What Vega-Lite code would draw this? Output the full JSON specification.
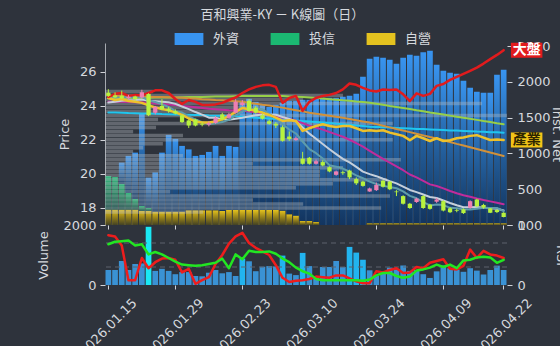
{
"$schema":"https://vega.github.io/schema/vega-lite/v6.json",
"background":"#2e333c",
"padding":{"left":37,"top":9,"right":0,"bottom":0},
"title":{"text":"百和興業-KY － K線圖（日）","font":"Noto Sans CJK TC","fontSize":13,"fontWeight":"normal","color":"#d6d9de","anchor":"middle","offset":5,"dx":-20},
"spacing":0,
"bounds":"flush",
"config":{
 "view":{"stroke":null},
 "axis":{"labelColor":"#d6d9de","titleColor":"#d6d9de","tickColor":"#d0d3d8","domainColor":"#a6aab0","labelFont":"DejaVu Sans","titleFont":"DejaVu Sans","labelFontSize":13,"titleFontSize":13,"titleFontWeight":"normal","grid":false,"tickWidth":1},
 "line":{"strokeCap":"round","strokeJoin":"round"}
},
"datasets":{
"d":[
{"date":"2026.01.15","o":24.78,"h":24.98,"l":24.53,"c":24.59,"v":500,"r5":83,"r10":68,"m5":24.45,"m10":24.2,"m20":24.25,"m60":24.6,"m120":24.45,"m240":23.62,"ind":24.47,"mkt":24.53,"外資":0,"投信":471,"自營":214},
{"date":"2026.01.16","o":24.62,"h":24.8,"l":24.45,"c":24.5,"v":500,"r5":81,"r10":72,"m5":24.48,"m10":24.25,"m20":24.25,"m60":24.59,"m120":24.46,"m240":23.61,"ind":24.35,"mkt":24.71,"外資":0,"投信":457,"自營":214},
{"date":"2026.01.19","o":24.6,"h":24.9,"l":24.4,"c":24.45,"v":800,"r5":66,"r10":73,"m5":24.5,"m10":24.3,"m20":24.24,"m60":24.58,"m120":24.46,"m240":23.6,"ind":24.41,"mkt":24.76,"外資":298,"投信":360,"自營":214},
{"date":"2026.01.20","o":24.45,"h":24.65,"l":24.4,"c":24.55,"v":500,"r5":8,"r10":74,"m5":24.52,"m10":24.33,"m20":24.23,"m60":24.57,"m120":24.47,"m240":23.58,"ind":24.29,"mkt":24.59,"外資":518,"投信":234,"自營":214},
{"date":"2026.01.21","o":24.55,"h":24.6,"l":24.3,"c":24.4,"v":700,"r5":8,"r10":66,"m5":24.5,"m10":24.35,"m20":24.22,"m60":24.56,"m120":24.47,"m240":23.57,"ind":24.24,"mkt":24.65,"外資":648,"投信":150,"自營":214},
{"date":"2026.01.22","o":24.5,"h":24.95,"l":24.45,"c":24.8,"v":720,"r5":45,"r10":68,"m5":24.54,"m10":24.38,"m20":24.21,"m60":24.55,"m120":24.48,"m240":23.56,"ind":24.18,"mkt":24.62,"外資":1288,"投信":70,"自營":196},
{"date":"2026.01.23","o":24.7,"h":24.75,"l":23.4,"c":23.45,"v":1940,"r5":28,"r10":51,"m5":24.33,"m10":24.3,"m20":24.18,"m60":24.54,"m120":24.48,"m240":23.55,"ind":24.03,"mkt":24.76,"外資":424,"投信":42,"自營":196},
{"date":"2026.01.26","o":23.6,"h":24.0,"l":23.5,"c":23.95,"v":470,"r5":38,"r10":55,"m5":24.23,"m10":24.28,"m20":24.15,"m60":24.53,"m120":24.49,"m240":23.54,"ind":23.91,"mkt":24.92,"外資":549,"投信":0,"自營":186},
{"date":"2026.01.27","o":24.0,"h":24.4,"l":23.75,"c":23.8,"v":540,"r5":44,"r10":51,"m5":24.1,"m10":24.25,"m20":24.12,"m60":24.52,"m120":24.49,"m240":23.52,"ind":23.82,"mkt":24.92,"外資":826,"投信":0,"自營":186},
{"date":"2026.01.28","o":23.85,"h":23.95,"l":23.6,"c":23.7,"v":470,"r5":45,"r10":45,"m5":23.94,"m10":24.22,"m20":24.08,"m60":24.51,"m120":24.5,"m240":23.51,"ind":23.74,"mkt":24.76,"外資":1074,"投信":0,"自營":186},
{"date":"2026.01.29","o":23.7,"h":23.8,"l":23.5,"c":23.55,"v":360,"r5":42,"r10":39,"m5":23.69,"m10":24.12,"m20":24.05,"m60":24.5,"m120":24.5,"m240":23.5,"ind":23.62,"mkt":24.41,"外資":1018,"投信":0,"自營":186},
{"date":"2026.01.30","o":23.45,"h":23.5,"l":23.0,"c":23.05,"v":430,"r5":21,"r10":34,"m5":23.61,"m10":23.97,"m20":24.0,"m60":24.48,"m120":24.51,"m240":23.49,"ind":23.47,"mkt":24.12,"外資":920,"投信":0,"自營":186},
{"date":"2026.02.02","o":23.15,"h":23.2,"l":22.7,"c":22.85,"v":430,"r5":27,"r10":33,"m5":23.39,"m10":23.81,"m20":23.96,"m60":24.45,"m120":24.52,"m240":23.48,"ind":23.26,"mkt":24.35,"外資":851,"投信":0,"自營":206},
{"date":"2026.02.03","o":23.2,"h":23.25,"l":22.8,"c":22.85,"v":300,"r5":2,"r10":32,"m5":23.2,"m10":23.64,"m20":23.92,"m60":24.43,"m120":24.52,"m240":23.47,"ind":23.09,"mkt":24.24,"外資":760,"投信":0,"自營":206},
{"date":"2026.02.04","o":22.95,"h":23.05,"l":22.8,"c":22.9,"v":290,"r5":8,"r10":33,"m5":23.04,"m10":23.49,"m20":23.88,"m60":24.4,"m120":24.53,"m240":23.46,"ind":23.02,"mkt":24.06,"外資":774,"投信":0,"自營":206},
{"date":"2026.02.05","o":22.9,"h":23.1,"l":22.8,"c":23.0,"v":410,"r5":13,"r10":35,"m5":22.93,"m10":23.31,"m20":23.84,"m60":24.38,"m120":24.54,"m240":23.44,"ind":23.02,"mkt":24.06,"外資":816,"投信":0,"自營":206},
{"date":"2026.02.06","o":23.0,"h":23.4,"l":22.95,"c":23.3,"v":500,"r5":35,"r10":37,"m5":22.98,"m10":23.3,"m20":23.81,"m60":24.35,"m120":24.55,"m240":23.43,"ind":23.09,"mkt":24.09,"外資":900,"投信":0,"自營":206},
{"date":"2026.02.09","o":23.5,"h":23.6,"l":23.15,"c":23.2,"v":390,"r5":50,"r10":44,"m5":23.05,"m10":23.22,"m20":23.78,"m60":24.33,"m120":24.55,"m240":23.42,"ind":23.21,"mkt":24.18,"外資":770,"投信":0,"自營":196},
{"date":"2026.02.10","o":23.3,"h":23.6,"l":23.25,"c":23.5,"v":430,"r5":69,"r10":28,"m5":23.18,"m10":23.19,"m20":23.75,"m60":24.3,"m120":24.56,"m240":23.41,"ind":23.41,"mkt":24.35,"外資":896,"投信":0,"自營":210},
{"date":"2026.02.11","o":23.6,"h":24.4,"l":23.55,"c":24.25,"v":300,"r5":81,"r10":51,"m5":23.45,"m10":23.25,"m20":23.73,"m60":24.28,"m120":24.57,"m240":23.4,"ind":23.65,"mkt":24.5,"外資":882,"投信":0,"自營":210},
{"date":"2026.02.23","o":24.05,"h":24.35,"l":24.0,"c":24.2,"v":880,"r5":87,"r10":43,"m5":23.69,"m10":23.31,"m20":23.71,"m60":24.25,"m120":24.58,"m240":23.37,"ind":23.88,"mkt":24.76,"外資":1526,"投信":0,"自營":210},
{"date":"2026.02.24","o":24.3,"h":24.4,"l":23.65,"c":23.7,"v":790,"r5":70,"r10":57,"m5":23.79,"m10":23.38,"m20":23.67,"m60":24.19,"m120":24.58,"m240":23.34,"ind":23.81,"mkt":24.97,"外資":1554,"投信":0,"自營":210},
{"date":"2026.02.25","o":23.9,"h":24.0,"l":23.55,"c":23.6,"v":460,"r5":62,"r10":55,"m5":23.85,"m10":23.45,"m20":23.63,"m60":24.13,"m120":24.58,"m240":23.31,"ind":23.71,"mkt":25.12,"外資":1512,"投信":0,"自營":210},
{"date":"2026.02.26","o":23.45,"h":23.55,"l":23.2,"c":23.25,"v":610,"r5":56,"r10":55,"m5":23.8,"m10":23.49,"m20":23.57,"m60":24.07,"m120":24.58,"m240":23.29,"ind":23.61,"mkt":25.21,"外資":1470,"投信":0,"自營":210},
{"date":"2026.03.02","o":23.1,"h":23.2,"l":22.9,"c":22.95,"v":630,"r5":50,"r10":56,"m5":23.54,"m10":23.5,"m20":23.49,"m60":24.02,"m120":24.58,"m240":23.26,"ind":23.47,"mkt":25.24,"外資":1442,"投信":0,"自營":210},
{"date":"2026.03.03","o":22.95,"h":23.05,"l":22.7,"c":22.85,"v":620,"r5":33,"r10":52,"m5":23.27,"m10":23.48,"m20":23.4,"m60":23.96,"m120":24.58,"m240":23.23,"ind":23.31,"mkt":25.12,"外資":1470,"投信":0,"自營":210},
{"date":"2026.03.04","o":22.75,"h":22.85,"l":21.9,"c":21.95,"v":980,"r5":12,"r10":44,"m5":22.92,"m10":23.35,"m20":23.32,"m60":23.9,"m120":24.58,"m240":23.2,"ind":23.12,"mkt":24.18,"外資":1508,"投信":0,"自營":200},
{"date":"2026.03.05","o":22.2,"h":22.5,"l":21.95,"c":22.05,"v":380,"r5":5,"r10":38,"m5":22.61,"m10":23.23,"m20":23.23,"m60":23.82,"m120":24.56,"m240":23.17,"ind":23.16,"mkt":24.47,"外資":1586,"投信":0,"自營":150},
{"date":"2026.03.06","o":22.0,"h":22.2,"l":21.95,"c":22.1,"v":330,"r5":7,"r10":29,"m5":22.38,"m10":23.09,"m20":23.14,"m60":23.75,"m120":24.54,"m240":23.14,"ind":23.12,"mkt":24.59,"外資":1606,"投信":0,"自營":130},
{"date":"2026.03.09","o":20.9,"h":21.3,"l":20.55,"c":20.6,"v":1070,"r5":8,"r10":23,"m5":21.91,"m10":22.73,"m20":22.99,"m60":23.68,"m120":24.52,"m240":23.11,"ind":22.53,"mkt":23.71,"外資":1694,"投信":0,"自營":56},
{"date":"2026.03.10","o":20.95,"h":21.0,"l":20.55,"c":20.6,"v":630,"r5":10,"r10":19,"m5":21.46,"m10":22.37,"m20":22.84,"m60":23.6,"m120":24.5,"m240":23.09,"ind":22.69,"mkt":24.24,"外資":1694,"投信":0,"自營":56},
{"date":"2026.03.11","o":20.6,"h":20.85,"l":20.55,"c":20.75,"v":280,"r5":14,"r10":10,"m5":21.22,"m10":22.07,"m20":22.72,"m60":23.54,"m120":24.47,"m240":23.06,"ind":22.82,"mkt":24.47,"外資":1722,"投信":0,"自營":42},
{"date":"2026.03.12","o":20.7,"h":20.8,"l":20.45,"c":20.5,"v":600,"r5":13,"r10":8,"m5":20.91,"m10":21.76,"m20":22.61,"m60":23.48,"m120":24.43,"m240":23.03,"ind":22.92,"mkt":24.59,"外資":1778,"投信":0,"自營":0},
{"date":"2026.03.13","o":20.4,"h":20.45,"l":20.1,"c":20.15,"v":600,"r5":12,"r10":8,"m5":20.52,"m10":21.45,"m20":22.47,"m60":23.42,"m120":24.4,"m240":23.0,"ind":22.82,"mkt":24.65,"外資":1778,"投信":0,"自營":0},
{"date":"2026.03.16","o":19.95,"h":20.2,"l":19.9,"c":20.15,"v":800,"r5":16,"r10":8,"m5":20.43,"m10":21.17,"m20":22.33,"m60":23.36,"m120":24.37,"m240":22.96,"ind":22.76,"mkt":24.76,"外資":1778,"投信":0,"自營":0},
{"date":"2026.03.17","o":20.1,"h":20.2,"l":19.95,"c":20.05,"v":600,"r5":16,"r10":8,"m5":20.32,"m10":20.89,"m20":22.19,"m60":23.3,"m120":24.33,"m240":22.93,"ind":22.82,"mkt":24.97,"外資":1792,"投信":0,"自營":0},
{"date":"2026.03.18","o":20.2,"h":20.25,"l":19.7,"c":19.8,"v":1270,"r5":11,"r10":8,"m5":20.13,"m10":20.68,"m20":22.01,"m60":23.23,"m120":24.3,"m240":22.89,"ind":22.82,"mkt":25.32,"外資":1806,"投信":0,"自營":0},
{"date":"2026.03.19","o":19.7,"h":19.8,"l":19.35,"c":19.45,"v":1080,"r5":6,"r10":8,"m5":19.92,"m10":20.42,"m20":21.82,"m60":23.16,"m120":24.26,"m240":22.85,"ind":22.69,"mkt":25.24,"外資":1834,"投信":0,"自營":0},
{"date":"2026.03.20","o":19.55,"h":19.6,"l":19.25,"c":19.3,"v":840,"r5":3,"r10":7,"m5":19.75,"m10":20.14,"m20":21.61,"m60":23.09,"m120":24.23,"m240":22.82,"ind":22.53,"mkt":25.06,"外資":2072,"投信":0,"自營":0},
{"date":"2026.03.23","o":18.97,"h":19.2,"l":18.95,"c":19.15,"v":490,"r5":3,"r10":9,"m5":19.55,"m10":19.99,"m20":21.36,"m60":23.02,"m120":24.19,"m240":22.78,"ind":22.57,"mkt":24.91,"外資":2299,"投信":0,"自營":25},
{"date":"2026.03.24","o":19.05,"h":19.5,"l":19.0,"c":19.35,"v":300,"r5":23,"r10":16,"m5":19.41,"m10":19.87,"m20":21.12,"m60":22.93,"m120":24.13,"m240":22.76,"ind":22.53,"mkt":24.85,"外資":2327,"投信":0,"自營":25},
{"date":"2026.03.25","o":19.6,"h":19.65,"l":19.2,"c":19.25,"v":400,"r5":21,"r10":20,"m5":19.3,"m10":19.72,"m20":20.89,"m60":22.83,"m120":24.07,"m240":22.74,"ind":22.57,"mkt":24.97,"外資":2313,"投信":0,"自營":25},
{"date":"2026.03.26","o":19.55,"h":19.6,"l":19.05,"c":19.1,"v":580,"r5":25,"r10":20,"m5":19.23,"m10":19.58,"m20":20.67,"m60":22.74,"m120":24.0,"m240":22.73,"ind":22.43,"mkt":24.94,"外資":2285,"投信":0,"自營":25},
{"date":"2026.03.27","o":18.97,"h":19.05,"l":18.7,"c":18.93,"v":520,"r5":28,"r10":15,"m5":19.16,"m10":19.45,"m20":20.45,"m60":22.64,"m120":23.94,"m240":22.71,"ind":22.34,"mkt":24.97,"外資":2229,"投信":0,"自營":25},
{"date":"2026.03.30","o":18.7,"h":18.75,"l":18.2,"c":18.25,"v":650,"r5":20,"r10":12,"m5":18.98,"m10":19.26,"m20":20.22,"m60":22.55,"m120":23.88,"m240":22.69,"ind":22.24,"mkt":24.68,"外資":2313,"投信":0,"自營":25},
{"date":"2026.03.31","o":18.25,"h":18.3,"l":17.95,"c":18.0,"v":470,"r5":21,"r10":14,"m5":18.71,"m10":19.06,"m20":19.97,"m60":22.46,"m120":23.82,"m240":22.67,"ind":21.98,"mkt":24.29,"外資":2355,"投信":0,"自營":25},
{"date":"2026.04.01","o":18.35,"h":18.6,"l":18.3,"c":18.55,"v":500,"r5":30,"r10":24,"m5":18.57,"m10":18.93,"m20":19.8,"m60":22.36,"m120":23.75,"m240":22.65,"ind":22.24,"mkt":24.74,"外資":2341,"投信":0,"自營":25},
{"date":"2026.04.02","o":18.7,"h":18.75,"l":17.95,"c":18.0,"v":360,"r5":28,"r10":26,"m5":18.35,"m10":18.79,"m20":19.6,"m60":22.27,"m120":23.69,"m240":22.64,"ind":22.1,"mkt":24.59,"外資":2390,"投信":0,"自營":25},
{"date":"2026.04.07","o":18.2,"h":18.25,"l":17.9,"c":17.95,"v":235,"r5":37,"r10":29,"m5":18.15,"m10":18.65,"m20":19.39,"m60":22.17,"m120":23.62,"m240":22.62,"ind":21.94,"mkt":24.71,"外資":2411,"投信":0,"自營":25},
{"date":"2026.04.08","o":18.37,"h":18.6,"l":18.3,"c":18.5,"v":455,"r5":40,"r10":34,"m5":18.2,"m10":18.59,"m20":19.29,"m60":22.08,"m120":23.56,"m240":22.6,"ind":22.1,"mkt":25.18,"外資":2215,"投信":0,"自營":25},
{"date":"2026.04.09","o":18.4,"h":18.45,"l":17.8,"c":17.85,"v":650,"r5":43,"r10":30,"m5":18.17,"m10":18.44,"m20":19.15,"m60":21.98,"m120":23.5,"m240":22.58,"ind":21.94,"mkt":25.29,"外資":2131,"投信":0,"自營":25},
{"date":"2026.04.10","o":17.98,"h":18.05,"l":17.7,"c":17.75,"v":560,"r5":27,"r10":34,"m5":18.01,"m10":18.29,"m20":19.0,"m60":21.88,"m120":23.43,"m240":22.56,"ind":21.98,"mkt":25.53,"外資":2103,"投信":0,"自營":25},
{"date":"2026.04.13","o":17.87,"h":17.95,"l":17.75,"c":17.83,"v":520,"r5":26,"r10":28,"m5":17.98,"m10":18.16,"m20":18.87,"m60":21.77,"m120":23.37,"m240":22.55,"ind":22.1,"mkt":25.71,"外資":2089,"投信":0,"自營":25},
{"date":"2026.04.14","o":17.92,"h":17.98,"l":17.65,"c":17.7,"v":440,"r5":32,"r10":41,"m5":17.93,"m10":18.04,"m20":18.75,"m60":21.67,"m120":23.3,"m240":22.53,"ind":22.14,"mkt":25.88,"外資":1991,"投信":0,"自營":25},
{"date":"2026.04.15","o":18.02,"h":18.45,"l":17.95,"c":18.4,"v":560,"r5":59,"r10":42,"m5":17.91,"m10":18.05,"m20":18.66,"m60":21.57,"m120":23.24,"m240":22.51,"ind":22.24,"mkt":26.06,"外資":1893,"投信":0,"自營":25},
{"date":"2026.04.16","o":18.5,"h":18.55,"l":18.05,"c":18.1,"v":480,"r5":45,"r10":46,"m5":17.96,"m10":18.06,"m20":18.56,"m60":21.47,"m120":23.18,"m240":22.49,"ind":22.28,"mkt":26.25,"外資":1837,"投信":0,"自營":25},
{"date":"2026.04.17","o":18.18,"h":18.25,"l":17.95,"c":18.02,"v":350,"r5":57,"r10":47,"m5":18.01,"m10":18.01,"m20":18.47,"m60":21.37,"m120":23.11,"m240":22.48,"ind":22.14,"mkt":26.49,"外資":1823,"投信":0,"自營":25},
{"date":"2026.04.20","o":17.98,"h":18.0,"l":17.7,"c":17.72,"v":500,"r5":51,"r10":46,"m5":18.0,"m10":17.98,"m20":18.39,"m60":21.26,"m120":23.05,"m240":22.46,"ind":22.0,"mkt":26.75,"外資":1823,"投信":0,"自營":25},
{"date":"2026.04.21","o":17.88,"h":17.92,"l":17.7,"c":17.76,"v":645,"r5":49,"r10":37,"m5":18.0,"m10":17.96,"m20":18.31,"m60":21.16,"m120":22.98,"m240":22.45,"ind":22.02,"mkt":27.0,"外資":2075,"投信":0,"自營":25},
{"date":"2026.04.22","o":17.72,"h":17.75,"l":17.45,"c":17.47,"v":500,"r5":45,"r10":42,"m5":17.81,"m10":17.86,"m20":18.22,"m60":21.06,"m120":22.92,"m240":22.43,"ind":22.0,"mkt":27.28,"外資":2145,"投信":0,"自營":25}
],
"prof":[
{"p":25.0,"vol":119},{"p":24.75,"vol":592},{"p":24.5,"vol":493},{"p":24.25,"vol":938},{"p":24.0,"vol":398},{"p":23.75,"vol":343},{"p":23.5,"vol":1000},{"p":23.25,"vol":132},{"p":23.0,"vol":716},{"p":22.75,"vol":127},{"p":22.5,"vol":70},{"p":22.25,"vol":194},{"p":22.0,"vol":716},{"p":21.75,"vol":144},{"p":21.5,"vol":95},{"p":21.25,"vol":70},{"p":21.0,"vol":194},{"p":20.75,"vol":736},{"p":20.5,"vol":368},{"p":20.25,"vol":592},{"p":20.0,"vol":535},{"p":19.75,"vol":535},{"p":19.5,"vol":701},{"p":19.25,"vol":567},{"p":19.0,"vol":475},{"p":18.75,"vol":162},{"p":18.5,"vol":709},{"p":18.25,"vol":368},{"p":18.0,"vol":493},{"p":17.75,"vol":687},{"p":17.5,"vol":244}
],
"lv":[{"lv":30},{"lv":70}]
},
"vconcat":[
{
 "width":402,"height":182,
 "data":{"name":"d"},
 "layer":[
  {
   "transform":[
    {"fold":["外資","投信","自營"],"as":["type","value"]},
    {"stack":"value","groupby":["date"],"sort":[{"field":"type","order":"descending"}],"as":["v0","v1"]}
   ],
   "encoding":{
    "x":{"field":"date","type":"ordinal","scale":{"paddingInner":0.15,"paddingOuter":0.075},"axis":{"orient":"bottom","values":["2026.01.15","2026.01.29","2026.02.23","2026.03.10","2026.03.24","2026.04.09","2026.04.22"],"labels":false,"tickSize":4,"domain":false,"title":null}},
    "y":{"field":"v1","type":"quantitative","scale":{"domain":[0,2545],"nice":false},"axis":{"orient":"right","values":[0,500,1000,1500,2000,2500],"format":"d","title":"Inst. Net","domain":false,"tickSize":5,"labelPadding":5,"titlePadding":-1}},
    "y2":{"field":"v0"}
   },
   "layer":[
    {"mark":{"type":"bar"},
     "encoding":{"color":{"field":"type","type":"nominal","scale":{"domain":["外資","投信","自營"],"range":["#3894f0","#1bb872","#e4c21f"]},
      "legend":{"orient":"none","legendX":72,"legendY":-16,"direction":"horizontal","title":null,"symbolType":"M-1.2,-0.5L1.2,-0.5L1.2,0.5L-1.2,0.5Z","symbolSize":576,"symbolStrokeWidth":0,"symbolOpacity":1,"labelFontSize":13,"labelFont":"Noto Sans CJK TC","labelColor":"#d6d9de","labelOffset":12,"columnPadding":30,"padding":0}}}},
    {"mark":{"type":"bar","color":{"gradient":"linear","x1":0,"y1":0,"x2":0,"y2":1,"stops":[{"offset":0,"color":"rgba(0,0,0,0)"},{"offset":1,"color":"rgba(4,16,40,0.72)"}]}}}
   ]
  },
  {
   "data":{"name":"prof"},
   "mark":{"type":"bar","orient":"horizontal","size":3.5,"color":"#b8bcc3","opacity":0.38},
   "encoding":{
    "y":{"field":"p","type":"quantitative","scale":{"domain":[17,27.7],"nice":false,"zero":false},"axis":null},
    "x":{"field":"vol","type":"quantitative","scale":{"domain":[0,1000],"nice":false},"axis":null}
   }
  },
  {
   "encoding":{"x":{"field":"date","type":"ordinal","scale":{"paddingInner":0.15,"paddingOuter":0.075},"axis":null}},
   "layer":[
    {"mark":{"type":"line","color":"#97cf48","strokeWidth":2},"encoding":{"y":{"field":"m120","type":"quantitative","scale":{"domain":[17,27.7],"nice":false,"zero":false},"axis":{"orient":"left","values":[18,20,22,24,26],"title":"Price","tickSize":5,"labelPadding":4,"titlePadding":8,"domain":true}}}},
    {"mark":{"type":"line","color":"#1fc6ef","strokeWidth":2},"encoding":{"y":{"field":"m240","type":"quantitative","scale":{"domain":[17,27.7],"nice":false,"zero":false}}}},
    {"mark":{"type":"line","color":"#d1913a","strokeWidth":2},"encoding":{"y":{"field":"m60","type":"quantitative","scale":{"domain":[17,27.7],"nice":false,"zero":false}}}},
    {"mark":{"type":"line","color":"#c12c9b","strokeWidth":2},"encoding":{"y":{"field":"m20","type":"quantitative","scale":{"domain":[17,27.7],"nice":false,"zero":false}}}},
    {"mark":{"type":"line","color":"#c5cfdb","strokeWidth":2},"encoding":{"y":{"field":"m10","type":"quantitative","scale":{"domain":[17,27.7],"nice":false,"zero":false}}}},
    {"mark":{"type":"line","color":"#5f9cab","strokeWidth":2},"encoding":{"y":{"field":"m5","type":"quantitative","scale":{"domain":[17,27.7],"nice":false,"zero":false}}}},
    {"mark":{"type":"line","color":"#eec12b","strokeWidth":2.5},"encoding":{"y":{"field":"ind","type":"quantitative","scale":{"domain":[17,27.7],"nice":false,"zero":false}}}},
    {"mark":{"type":"line","color":"#e11b1d","strokeWidth":2.5},"encoding":{"y":{"field":"mkt","type":"quantitative","scale":{"domain":[17,27.7],"nice":false,"zero":false}}}},
    {"mark":{"type":"rule","strokeWidth":1},"encoding":{"y":{"field":"l","type":"quantitative","scale":{"domain":[17,27.7],"nice":false,"zero":false}},"y2":{"field":"h"},"color":{"condition":{"test":"datum.c >= datum.o","value":"#ef7fb2"},"value":"#b8f23e"}}},
    {"mark":{"type":"bar","width":{"band":0.75}},"encoding":{"y":{"field":"o","type":"quantitative","scale":{"domain":[17,27.7],"nice":false,"zero":false}},"y2":{"field":"c"},"color":{"condition":{"test":"datum.c >= datum.o","value":"#ef7fb2"},"value":"#b8f23e"}}},
    {"transform":[{"filter":"datum.date == '2026.04.22'"}],"mark":{"type":"point","shape":"M-1.05,-0.5L1.05,-0.5L1.05,0.5L-1.05,0.5Z","size":900,"filled":true,"color":"#e11b1d","opacity":1,"xOffset":23},"encoding":{"y":{"field":"mkt","type":"quantitative","scale":{"domain":[17,27.7],"nice":false,"zero":false}}}},
    {"transform":[{"filter":"datum.date == '2026.04.22'"}],"mark":{"type":"text","text":"大盤","dx":23,"font":"Noto Sans CJK TC","fontSize":14,"fontWeight":"bold","color":"#ffffff"},"encoding":{"y":{"field":"mkt","type":"quantitative","scale":{"domain":[17,27.7],"nice":false,"zero":false}}}},
    {"transform":[{"filter":"datum.date == '2026.04.22'"}],"mark":{"type":"point","shape":"M-1.05,-0.5L1.05,-0.5L1.05,0.5L-1.05,0.5Z","size":900,"filled":true,"color":"#f2c417","opacity":1,"xOffset":23},"encoding":{"y":{"field":"ind","type":"quantitative","scale":{"domain":[17,27.7],"nice":false,"zero":false}}}},
    {"transform":[{"filter":"datum.date == '2026.04.22'"}],"mark":{"type":"text","text":"產業","dx":23,"font":"Noto Sans CJK TC","fontSize":14,"fontWeight":"bold","color":"#2e2600"},"encoding":{"y":{"field":"ind","type":"quantitative","scale":{"domain":[17,27.7],"nice":false,"zero":false}}}}
   ]
  }
 ],
 "resolve":{"scale":{"x":"independent","y":"independent"}}
},
{
 "width":402,"height":60,
 "data":{"name":"d"},
 "layer":[
  {"mark":{"type":"bar"},
   "encoding":{
    "x":{"field":"date","type":"ordinal","scale":{"paddingInner":0.15,"paddingOuter":0.075},"axis":{"orient":"bottom","values":["2026.01.15","2026.01.29","2026.02.23","2026.03.10","2026.03.24","2026.04.09","2026.04.22"],"labelAngle":-45,"labelAlign":"center","labelBaseline":"middle","labelPadding":38,"tickSize":4,"domain":false,"title":null}},
    "y":{"field":"v","type":"quantitative","scale":{"domain":[0,2000],"nice":false},"axis":{"orient":"left","values":[0,2000],"format":"d","title":"Volume","domain":false,"tickSize":5,"labelPadding":4,"titlePadding":12}},
    "color":{"condition":[{"test":"datum.v >= 1500","value":"#1ae8f4"},{"test":"datum.v >= 830","value":"#22b4ef"}],"value":"#3a92d4"}
   }},
  {
   "layer":[
    {"data":{"name":"lv"},"mark":{"type":"rule","strokeDash":[5,4],"color":"#5d636d","strokeWidth":1},"encoding":{"y":{"field":"lv","type":"quantitative","scale":{"domain":[0,100],"nice":false}}}},
    {"mark":{"type":"line","color":"#ee1d1d","strokeWidth":2.5},"encoding":{
      "x":{"field":"date","type":"ordinal"},
      "y":{"field":"r5","type":"quantitative","scale":{"domain":[0,100],"nice":false},"axis":{"orient":"right","values":[0,50,100],"title":"RSI","domain":false,"tickSize":5,"labelPadding":5,"titlePadding":12}}}},
    {"mark":{"type":"line","color":"#22e622","strokeWidth":2.5},"encoding":{
      "x":{"field":"date","type":"ordinal"},
      "y":{"field":"r10","type":"quantitative","scale":{"domain":[0,100],"nice":false}}}}
   ]
  }
 ],
 "resolve":{"scale":{"y":"independent"}}
}
]
}
